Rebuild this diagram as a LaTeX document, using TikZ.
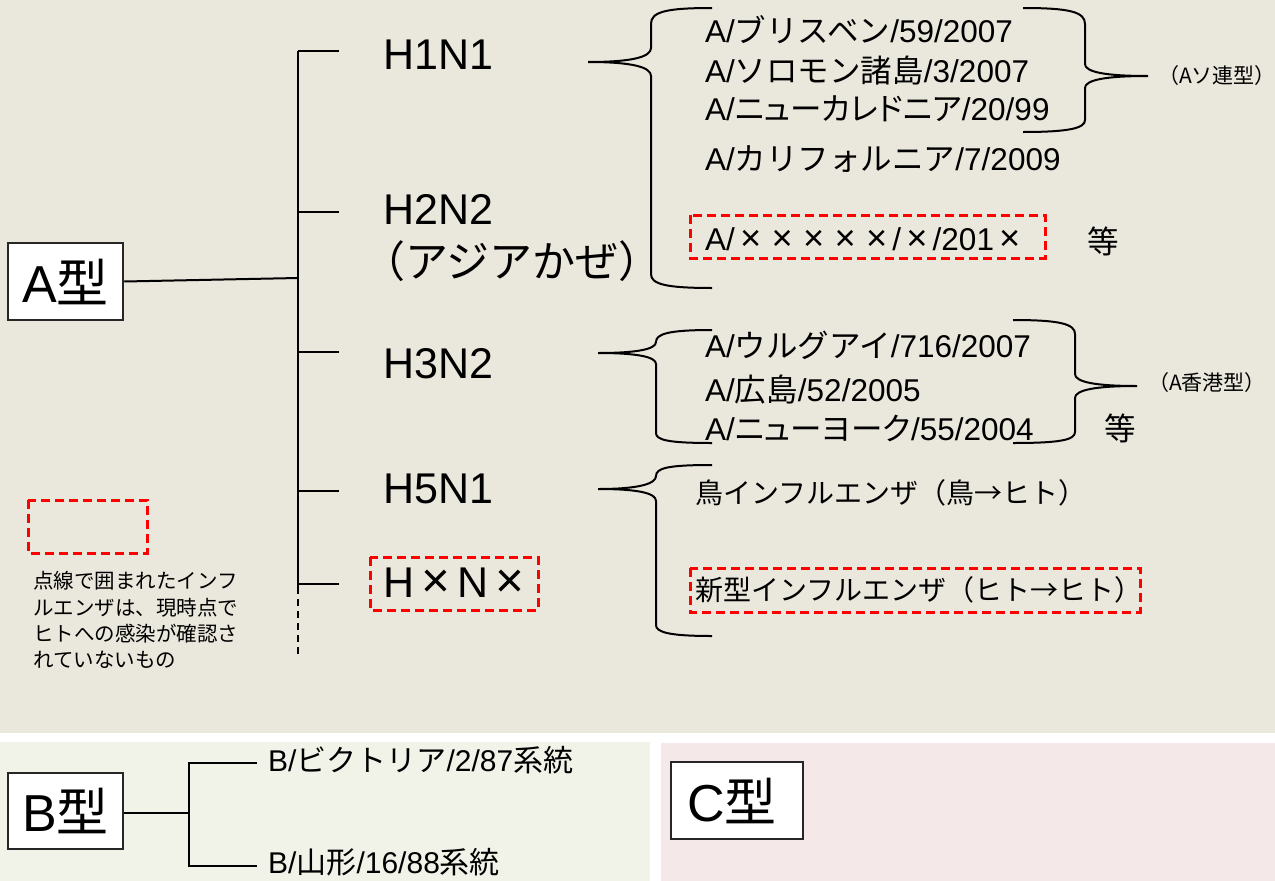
\documentclass[tikz,border=0pt]{standalone}
\usepackage{fontspec}
\usepackage{graphicx}
\setmainfont{Liberation Sans}
\newfontfamily\jp{Noto Sans CJK JP}
\newfontfamily\jpp[RawFeature=+palt]{Noto Sans CJK JP}
\newcommand\J[1]{{\jp #1}}
\newcommand\JP[1]{{\jpp #1}}
\newcommand\X{\makebox[1em]{\scalebox{1.15}{×}}}
\newcommand\fsz[1]{\fontsize{#1}{#1}\selectfont}
\definecolor{bgA}{HTML}{EAE7DC}
\definecolor{bgB}{HTML}{F1F3E9}
\definecolor{bgC}{HTML}{F5E8E8}
\definecolor{rdc}{HTML}{FF0000}
\begin{document}
\begin{tikzpicture}[x=1pt,y=-1pt,
  tline/.style={line width=2pt, draw=black},
  dline/.style={line width=2pt, draw=black, dash pattern=on 7pt off 5pt},
  bracepath/.style={line width=2pt, draw=black},
  rdash/.style={draw=rdc, line width=3pt, dash pattern=on 9pt off 5pt},
  typebox/.style={draw=black!85, line width=2.5pt, fill=white, inner sep=0pt},
  lbl/.style={anchor=base west, inner sep=0pt},
  big/.style={font=\fsz{43}},
  mid/.style={font=\fsz{31.5}},
  sml/.style={font=\fsz{28}},
  tiny/.style={font=\fsz{21}},
  leg/.style={font=\fsz{20.5}}]
\useasboundingbox (0,0) rectangle (1275,881);
% backgrounds
\fill[bgA] (0,0) rectangle (1275,733);
\fill[white] (0,733) rectangle (1275,742);
\fill[bgB] (0,742) rectangle (650,881);
\fill[white] (650,742) rectangle (661,881);
\fill[bgC] (661,743) rectangle (1275,881);

% ---------- A type ----------
\node[typebox, minimum width=115pt, minimum height=77pt, font=\fsz{52}] (a) at (65.5,281.5) {A\J{型}};

\coordinate (vt) at (298,51);
\coordinate (aj) at (298,278);
\coordinate (vm) at (298,587);
\coordinate (vb) at (298,658);
\coordinate (b1) at (339,51);
\coordinate (b2) at (339,212);
\coordinate (b3) at (339,352);
\coordinate (b5) at (339,491);
\coordinate (bx) at (339,584);

\draw[tline] (vt) -- (vm);
\draw[dline] (vm) -- (vb);
\draw[tline] (a.east) -- (aj);
\draw[tline] (vt) -- (b1);
\draw[tline] (b2 -| vt) -- (b2);
\draw[tline] (b3 -| vt) -- (b3);
\draw[tline] (b5 -| vt) -- (b5);
\draw[tline] (bx -| vt) -- (bx);

\node[lbl, big] (h1) at (383,69) {H1N1};
\node[lbl, big] (h2) at (383,224) {H2N2};
\node[lbl, big] (h2b) at (362,277) {\J{（アジアかぜ）}};
\node[lbl, big] (h3) at (383,378) {H3N2};
\node[lbl, big] (h5) at (383,503) {H5N1};
\node[lbl, big] (hx) at (383,597) {H\X N\X};
\draw[rdash] (370,557) rectangle (538,610);

% H1N1 group
\node[lbl, mid] (l1) at (705,42) {A/\J{ブリスベン}/59/2007};
\node[lbl, mid] (l2) at (705,82) {A/\J{ソロモン諸島}/3/2007};
\node[lbl, mid] (l3) at (705,120) {A/\JP{ニューカレドニア}/20/99};
\node[lbl, mid] (l4) at (705,170) {A/\J{カリフォルニア}/7/2009};
\node[lbl, mid] (l5) at (705,250) {A/\X\X\X\X\X/\X/201\X};
\draw[rdash] (690,215) rectangle (1045,258);
\node[lbl, mid] (t1) at (1087,253) {\J{等}};

\draw[bracepath] (712,8) .. controls (665,8) and (651,12) .. (651,24) -- (651,48)
  .. controls (651,57) and (632,62) .. (588,62)
  .. controls (632,62) and (651,67) .. (651,76) -- (651,274)
  .. controls (651,284) and (665,288) .. (712,288);
\draw[bracepath] (1023,8) .. controls (1070,8) and (1085,12) .. (1085,24) -- (1085,64)
  .. controls (1085,72) and (1105,76) .. (1148,76)
  .. controls (1105,76) and (1085,80) .. (1085,88) -- (1085,120)
  .. controls (1085,128) and (1070,132) .. (1023,132);
\node[lbl, tiny] (sov) at (1158,83) {\J{（A}\J{ソ連型）}};

% H3N2 group
\node[lbl, mid] (m1) at (705,357) {A/\J{ウルグアイ}/716/2007};
\node[lbl, mid] (m2) at (705,401) {A/\J{広島}/52/2005};
\node[lbl, mid] (m3) at (705,440) {A/\JP{ニューヨーク}/55/2004};
\node[lbl, mid] (t2) at (1104,440) {\J{等}};
\draw[bracepath] (712,330) .. controls (668,330) and (656,334) .. (656,342)
  .. controls (656,349) and (638,353) .. (598,353)
  .. controls (638,353) and (656,357) .. (656,364) -- (656,433)
  .. controls (656,440) and (668,443) .. (712,443);
\draw[bracepath] (1013,320) .. controls (1060,320) and (1075,324) .. (1075,334) -- (1075,374)
  .. controls (1075,382) and (1095,386) .. (1137,386)
  .. controls (1095,386) and (1075,390) .. (1075,398) -- (1075,432)
  .. controls (1075,440) and (1060,443) .. (1013,443);
\node[lbl, tiny] (hk) at (1148,390) {\J{（A香港型）}};

% H5N1 group
\node[lbl, sml] (n1) at (695,503) {\J{鳥インフルエンザ（鳥→ヒト）}};
\node[lbl, sml] (n2) at (695,600) {\J{新型インフルエンザ（ヒト→ヒト）}};
\draw[rdash] (690,568) rectangle (1140,612);
\draw[bracepath] (712,465) .. controls (668,465) and (656,468) .. (656,476)
  .. controls (656,484) and (638,489) .. (598,489)
  .. controls (638,489) and (656,493) .. (656,501) -- (656,625)
  .. controls (656,632) and (668,636) .. (712,636);

% legend
\draw[rdash] (28,500) rectangle (147,553);
\node[lbl, leg] (g1) at (33,588) {\J{点線で囲まれたインフ}};
\node[lbl, leg] (g2) at (33,615) {\J{ルエンザは、現時点で}};
\node[lbl, leg] (g3) at (33,641) {\J{ヒトへの感染が確認さ}};
\node[lbl, leg] (g4) at (33,667) {\J{れていないもの}};

% ---------- B type ----------
\node[typebox, minimum width=115pt, minimum height=76pt, font=\fsz{52}] (b) at (65.5,811) {B\J{型}};
\coordinate (bj) at (189,813);
\coordinate (bt) at (189,763);
\coordinate (bb) at (189,866);
\coordinate (bte) at (257,763);
\coordinate (bbe) at (257,866);
\draw[tline] (b.east |- bj) -- (bj);
\draw[tline] (bte) -- (bt) -- (bb) -- (bbe);
\node[lbl, font=\fsz{30}] (bv) at (268,771) {B/\J{ビクトリア}/2/87\J{系統}};
\node[lbl, font=\fsz{30}] (by) at (268,873) {B/\J{山形}/16/88\J{系統}};

% ---------- C type ----------
\node[typebox, minimum height=77pt, text width=100pt, inner xsep=16pt, align=left, font=\fsz{52}] (c) at (737,800.5) {C\J{型}};
\end{tikzpicture}
\end{document}
